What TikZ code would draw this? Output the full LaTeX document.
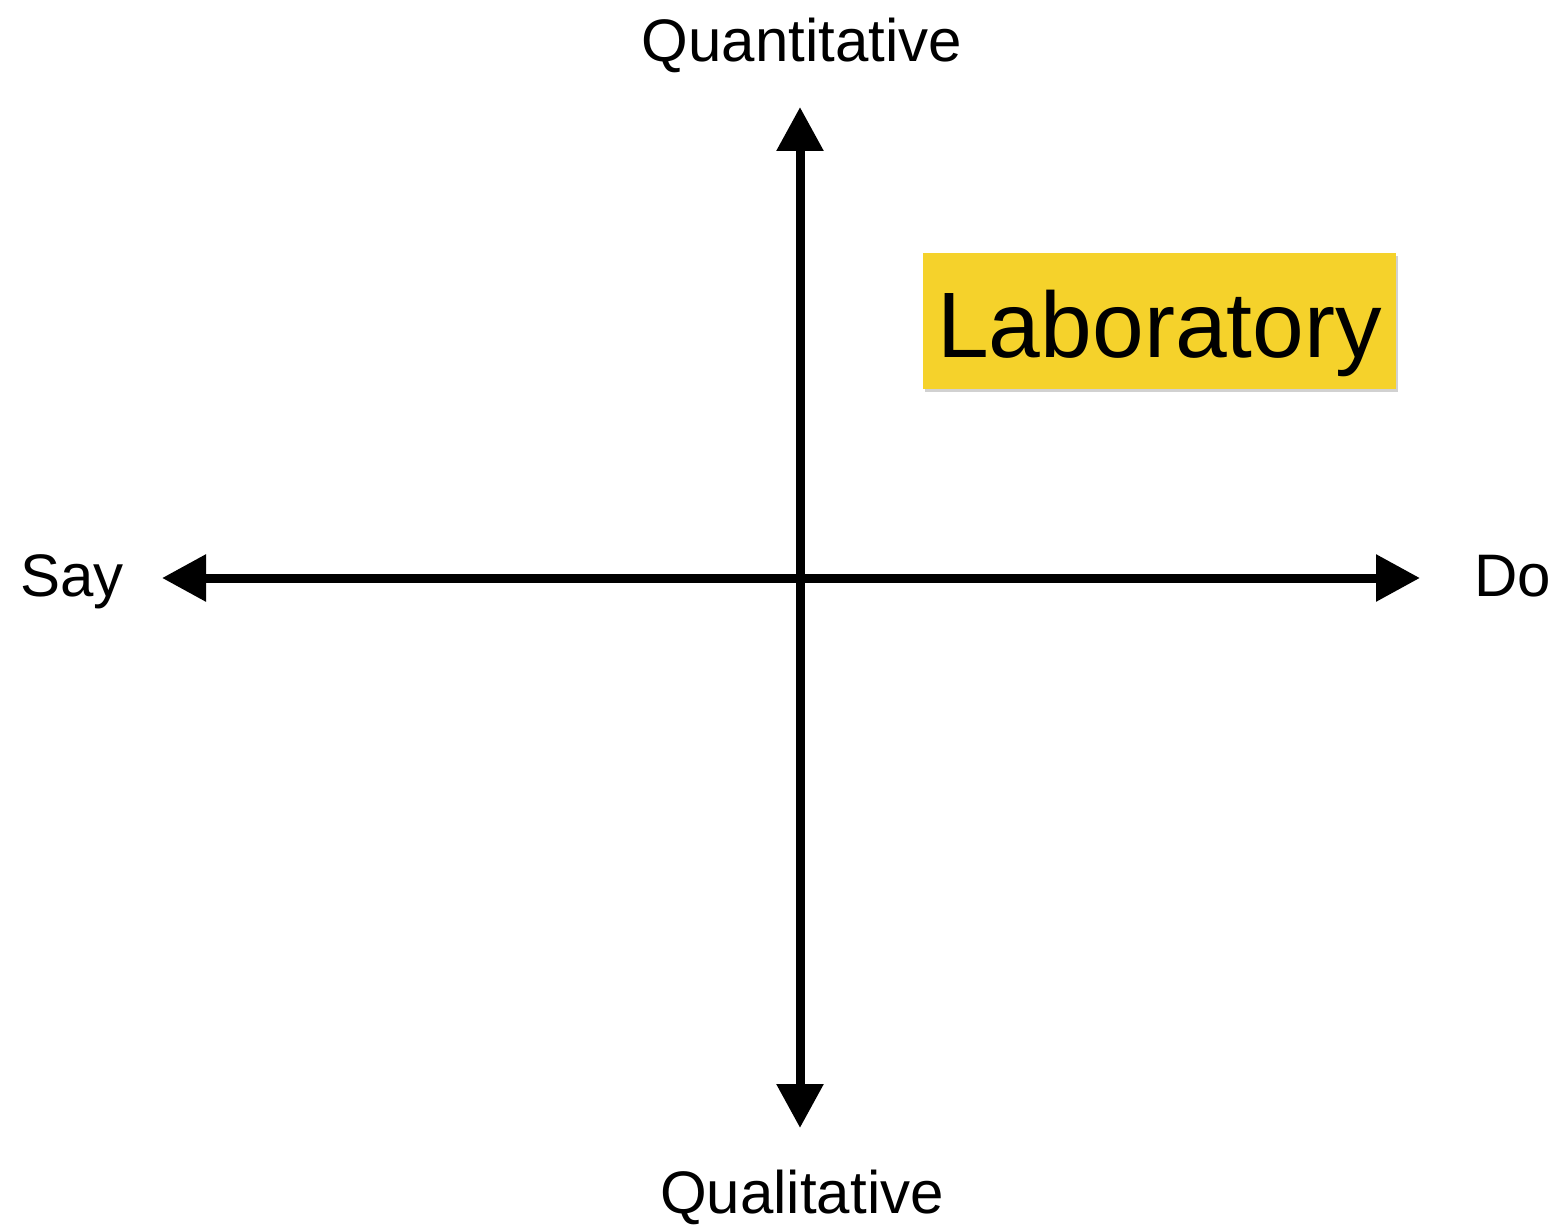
\documentclass[tikz,border=0pt]{standalone}
\usepackage{fontspec}
\setmainfont{Liberation Sans}
\usetikzlibrary{arrows.meta,shadows}
\definecolor{labyellow}{HTML}{F5D22B}
\tikzset{
  axis/.style={line width=9pt, {Triangle[length=44pt,width=45pt]}-{Triangle[length=44pt,width=45pt]}},
  axislabel/.style={font=\fontsize{60}{60}\selectfont, inner sep=0pt, anchor=base},
  labbox/.style={fill=labyellow, minimum width=473pt, minimum height=136pt, inner sep=0pt,
     drop shadow={shadow xshift=1.5pt, shadow yshift=-3pt, fill=black!40, opacity=0.45},
     font=\fontsize{93}{93}\selectfont}
}
\begin{document}
\begin{tikzpicture}[x=1pt,y=-1pt]
\useasboundingbox (0,0) rectangle (1561,1225);
\coordinate (top) at (800,107);
\coordinate (bottom) at (800,1128);
\coordinate (left) at (162,578);
\coordinate (right) at (1420,578);
\draw[axis] (bottom) -- (top);
\draw[axis] (left) -- (right);
\node[axislabel] (quant) at (802,62) {Quantitative};
\node[axislabel] (qual) at (802,1213) {Qualitative};
\node[axislabel, anchor=base west] (say) at (20,596) {Say};
\node[axislabel, anchor=base west] (do) at (1474,596) {Do};
\node[labbox] (lab) at (1159.5,321) {\raisebox{-36pt}[0pt][0pt]{Laboratory}};
\end{tikzpicture}
\end{document}
